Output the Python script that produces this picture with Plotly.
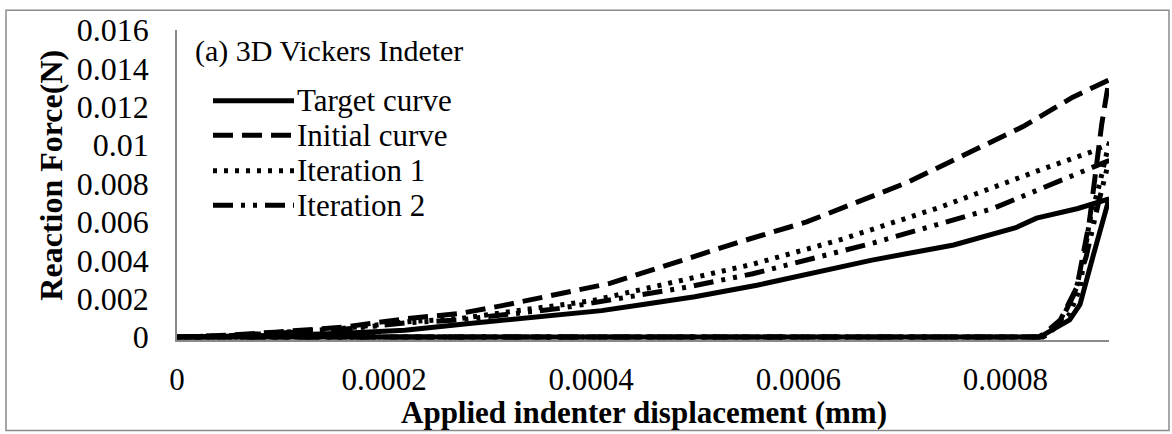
import plotly.graph_objects as go

# ---------------- data ----------------
x_target = [0, 0.00005, 0.0001, 0.00016, 0.00022, 0.00028, 0.00034, 0.00041, 0.00045, 0.0005,
            0.00056, 0.00061, 0.00067, 0.00072, 0.00075, 0.00081, 0.00083, 0.00087, 0.0009,
            0.000885, 0.000872, 0.000862, 0.00084, 0.000833, 0]
y_target = [0, 0.00003, 0.0001, 0.0002, 0.00036, 0.0007, 0.001, 0.00138, 0.0017, 0.0021,
            0.0027, 0.0033, 0.0040, 0.0045, 0.0048, 0.0057, 0.0062, 0.0067, 0.0072,
            0.0043, 0.0017, 0.0009, 0.0002, 0, 0]

x_initial = [0, 0.00005, 0.0000946, 0.000159, 0.000223, 0.000273, 0.000314, 0.000418, 0.000544,
             0.000608, 0.000705, 0.000817, 0.000865, 0.0009,
             0.000893, 0.000881, 0.000869, 0.000853, 0.000838, 0.000832, 0]
y_initial = [0, 0.0001, 0.00026, 0.00051, 0.00097, 0.00123, 0.00164, 0.0028, 0.00497,
             0.006, 0.00805, 0.01097, 0.0125, 0.0134,
             0.0111, 0.006, 0.0026, 0.0009, 0.0002, 0, 0]

x_iter1 = [0, 0.00005, 0.0000946, 0.000159, 0.000223, 0.000273, 0.000401, 0.000556, 0.000641,
           0.000737, 0.000834, 0.000885, 0.0009,
           0.000891, 0.000881, 0.000877, 0.000872, 0.000862, 0.00084, 0.000835, 0]
y_iter1 = [0, 0.00008, 0.00022, 0.00045, 0.0008, 0.00097, 0.0019, 0.0038, 0.00508,
           0.00677, 0.00872, 0.00969, 0.0101,
           0.008, 0.006, 0.0043, 0.00256, 0.0012, 0.0001, 0, 0]

x_iter2 = [0, 0.00005, 0.0000946, 0.000159, 0.000223, 0.000273, 0.00037, 0.000492, 0.000556,
           0.000672, 0.000788, 0.000846, 0.0009,
           0.000889, 0.000878, 0.000866, 0.000853, 0.000836, 0]
y_iter2 = [0, 0.00007, 0.0002, 0.0004, 0.00075, 0.0009, 0.0015, 0.0026, 0.0033,
           0.0049, 0.0067, 0.0080, 0.0092,
           0.0068, 0.0042, 0.0022, 0.0008, 0, 0]

series_names = ["Target curve", "Initial curve", "Iteration 1", "Iteration 2"]
x_tickvals = [0, 0.0002, 0.0004, 0.0006, 0.0008]
x_ticktext = ["0", "0.0002", "0.0004", "0.0006", "0.0008"]
y_tickvals = [0, 0.002, 0.004, 0.006, 0.008, 0.01, 0.012, 0.014, 0.016]
y_ticktext = ["0", "0.002", "0.004", "0.006", "0.008", "0.01", "0.012", "0.014", "0.016"]
panel_label = "(a) 3D Vickers Indeter"

# ---------------- styling ----------------
FONT = "Liberation Serif"
W, H = 1172, 434
L, T = 177, 25
PR, PB = 1109, 340                     # plot area right / bottom in page px
R, B = W - PR, H - PB
PW, PH = PR - L, PB - T
dashes = ["solid", "20px,9px", "4px,7px", "20px,8px,4px,8px,4px,8px"]
LW = 5

def px2paper_x(px):
    return (px - L) / PW

def py2paper_y(py):
    return (PB - py) / PH

fig = go.Figure()
for xs, ys, name, dash in zip([x_target, x_initial, x_iter1, x_iter2],
                              [y_target, y_initial, y_iter1, y_iter2],
                              series_names, dashes):
    fig.add_trace(go.Scatter(x=xs, y=ys, mode="lines", name=name,
                             line=dict(color="black", width=LW, dash=dash),
                             showlegend=False))

axis_col = "#8a8a8a"
fig.update_xaxes(range=[0, 0.0009], tickvals=x_tickvals, ticktext=x_ticktext,
                 showgrid=False, zeroline=False, showline=True, linecolor=axis_col,
                 linewidth=1.5, ticks="", ticklabelstandoff=11, ticklabeloverflow="allow",
                 tickfont=dict(family=FONT, size=31, color="black"))
fig.update_yaxes(range=[-0.00015, 0.016], tickvals=y_tickvals, ticktext=y_ticktext,
                 showgrid=False, zeroline=False, showline=True, linecolor=axis_col,
                 linewidth=1.5, ticks="", ticklabelstandoff=20, ticklabeloverflow="allow",
                 tickfont=dict(family=FONT, size=32, color="black"))

annotations = [
    dict(text="<b>Applied indenter displacement (mm)</b>", xref="paper", yref="paper",
         x=px2paper_x(644), y=py2paper_y(414), xanchor="center", yanchor="middle",
         showarrow=False, font=dict(family=FONT, size=31, color="black")),
    dict(text="<b>Reaction Force(N)</b>", xref="paper", yref="paper",
         x=px2paper_x(51), y=py2paper_y(172), xanchor="center", yanchor="middle",
         textangle=-90, showarrow=False, font=dict(family=FONT, size=32, color="black")),
    dict(text=panel_label, xref="paper", yref="paper",
         x=px2paper_x(193), y=py2paper_y(46), xanchor="left", yanchor="middle",
         showarrow=False, font=dict(family=FONT, size=30, color="black")),
]
shapes = [dict(type="rect", xref="paper", yref="paper",
               x0=px2paper_x(6), x1=px2paper_x(1169), y0=py2paper_y(432), y1=py2paper_y(5),
               line=dict(color=axis_col, width=1.5), layer="below")]

rows = [97, 132, 168, 203]
for name, dash, ry in zip(series_names, dashes, rows):
    shapes.append(dict(type="line", xref="paper", yref="paper",
                       x0=px2paper_x(213), x1=px2paper_x(294),
                       y0=py2paper_y(ry), y1=py2paper_y(ry),
                       line=dict(color="black", width=LW, dash=dash)))
    annotations.append(dict(text=name, xref="paper", yref="paper",
                            x=px2paper_x(295), y=py2paper_y(ry), xanchor="left",
                            yanchor="middle", showarrow=False,
                            font=dict(family=FONT, size=31, color="black")))

fig.update_layout(width=W, height=H, margin=dict(l=L, r=R, t=T, b=B),
                  paper_bgcolor="white", plot_bgcolor="white",
                  annotations=annotations, shapes=shapes, showlegend=False)

# remove the browser's default page margin so the figure fills the window exactly
fig.write_html("out.html", config={"displayModeBar": False},
               post_script="document.body.style.margin='0';document.body.style.overflow='hidden';")
